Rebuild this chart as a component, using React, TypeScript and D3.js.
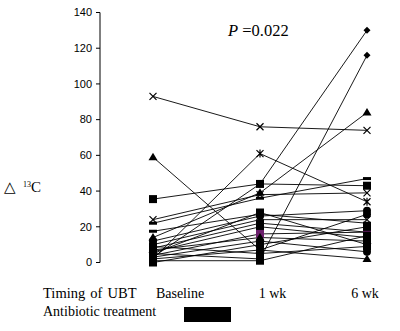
import React from "react";
import * as d3 from "d3";

const categories = ["Baseline", "1 wk", "6 wk"];
const yTicks = [0, 20, 40, 60, 80, 100, 120, 140];
const baseline = [93, 59, 3, 5, 2, 35.5, 24, 22, 14, 17.5, 12, 10, 8, 6, 4, 3, 1, 0, 5, 2, 7, 9];
const week1 = [76, 7, 44, 2, 61, 44, 38, 36, 39, 27, 26, 24, 22, 20, 16, 12, 1, 10, 28, 7, 14, 5];
const week6 = [74, 2, 130, 116, 34, 43, 39, 47, 84, 22, 29, 24, 17, 14, 17, 6, 15, 20, 10, 27, 12, 9];
const markers = ["x", "triangle", "diamond", "diamond", "star", "square", "x", "dash", "triangle", "dash", "circle", "x", "square", "square", "square", "circle", "square", "square", "square", "circle", "triangle", "square"];
const markerColors = ["#000", "#000", "#000", "#000", "#000", "#000", "#000", "#000", "#000", "#000", "#000", "#000", "#000", "#000", "#6b1f6b", "#000", "#000", "#000", "#000", "#000", "#000", "#000"];

const W = 400;
const H = 331;

function Marker({ type, cx, cy, color }: { type: string; cx: number; cy: number; color: string }) {
  const s = 4;
  switch (type) {
    case "square":
      return <rect x={cx - s} y={cy - s} width={2 * s} height={2 * s} fill={color} />;
    case "diamond":
      return <path d={`M${cx},${cy - 3.5}L${cx + 3.5},${cy}L${cx},${cy + 3.5}L${cx - 3.5},${cy}Z`} fill={color} />;
    case "triangle":
      return <path d={`M${cx},${cy - 4.5}L${cx + 4.5},${cy + 3}L${cx - 4.5},${cy + 3}Z`} fill={color} />;
    case "circle":
      return <circle cx={cx} cy={cy} r={4} fill={color} />;
    case "dash":
      return <rect x={cx - 4} y={cy - 1.5} width={8} height={3} fill={color} />;
    case "x":
      return <path d={`M${cx - 3.5},${cy - 3.5}L${cx + 3.5},${cy + 3.5}M${cx + 3.5},${cy - 3.5}L${cx - 3.5},${cy + 3.5}`} stroke={color} strokeWidth={1.2} />;
    case "star":
      return <path d={`M${cx - 3.5},${cy - 3.5}L${cx + 3.5},${cy + 3.5}M${cx + 3.5},${cy - 3.5}L${cx - 3.5},${cy + 3.5}M${cx},${cy - 4}L${cx},${cy + 4}`} stroke={color} strokeWidth={1.2} />;
    default:
      return null;
  }
}

export default function App() {
  const x = d3.scalePoint<string>().domain(categories).range([153, 367]);
  const xLabel = d3.scalePoint<string>().domain(categories).range([180, 365]);
  const y = d3.scaleLinear().domain([0, 140]).range([262.5, 12.5]);
  const line = d3
    .line<[string, number]>()
    .x((d) => x(d[0]) as number)
    .y((d) => y(d[1]));

  const series = baseline.map((b, i) => [
    [categories[0], b],
    [categories[1], week1[i]],
    [categories[2], week6[i]],
  ] as [string, number][]);

  const serif = "'Liberation Serif', 'Times New Roman', serif";
  const sans = "'Liberation Sans', Arial, sans-serif";

  return (
    <svg width={W} height={H} style={{ position: "absolute", left: 0, top: 0, background: "#fff" }}>
      <rect width={W} height={H} fill="#fff" />
      <line x1={100} x2={100} y1={y(140)} y2={y(0)} stroke="#000" strokeWidth={1} />
      {yTicks.map((t) => (
        <g key={t}>
          <line x1={96} x2={100} y1={y(t)} y2={y(t)} stroke="#000" />
          <text x={92} y={y(t)} dy="0.35em" textAnchor="end" fontFamily={sans} fontSize={11} fill="#000">
            {t}
          </text>
        </g>
      ))}
      {series.map((s, i) => (
        <path key={i} d={line(s) || ""} fill="none" stroke="#000" strokeWidth={0.9} />
      ))}
      {series.map((s, i) =>
        s.map((d, j) => (
          <Marker key={`${i}-${j}`} type={markers[i]} cx={x(d[0]) as number} cy={y(d[1])} color={markerColors[i]} />
        ))
      )}
      <text x={228} y={36} fontFamily={serif} fontSize={16.5} fill="#000">
        <tspan fontStyle="italic">P</tspan>
        <tspan> =0.022</tspan>
      </text>
      <text x={4} y={192} fontFamily={serif} fontSize={15} fill="#000">
        <tspan>△</tspan>
        <tspan dx={7} dy={-5} fontSize={8}>13</tspan>
        <tspan dy={5}>C</tspan>
      </text>
      <text x={43} y={298} fontFamily={serif} fontSize={14.5} fill="#000" wordSpacing={1.5}>Timing of UBT</text>
      {categories.map((c) => (
        <text key={c} x={xLabel(c) as number} y={298} textAnchor="middle" fontFamily={serif} fontSize={14} fill="#000">
          {c}
        </text>
      ))}
      <text x={43} y={316} fontFamily={serif} fontSize={14} fill="#000">Antibiotic treatment</text>
      <rect x={184} y={307} width={47} height={15} fill="#000" />
    </svg>
  );
}
